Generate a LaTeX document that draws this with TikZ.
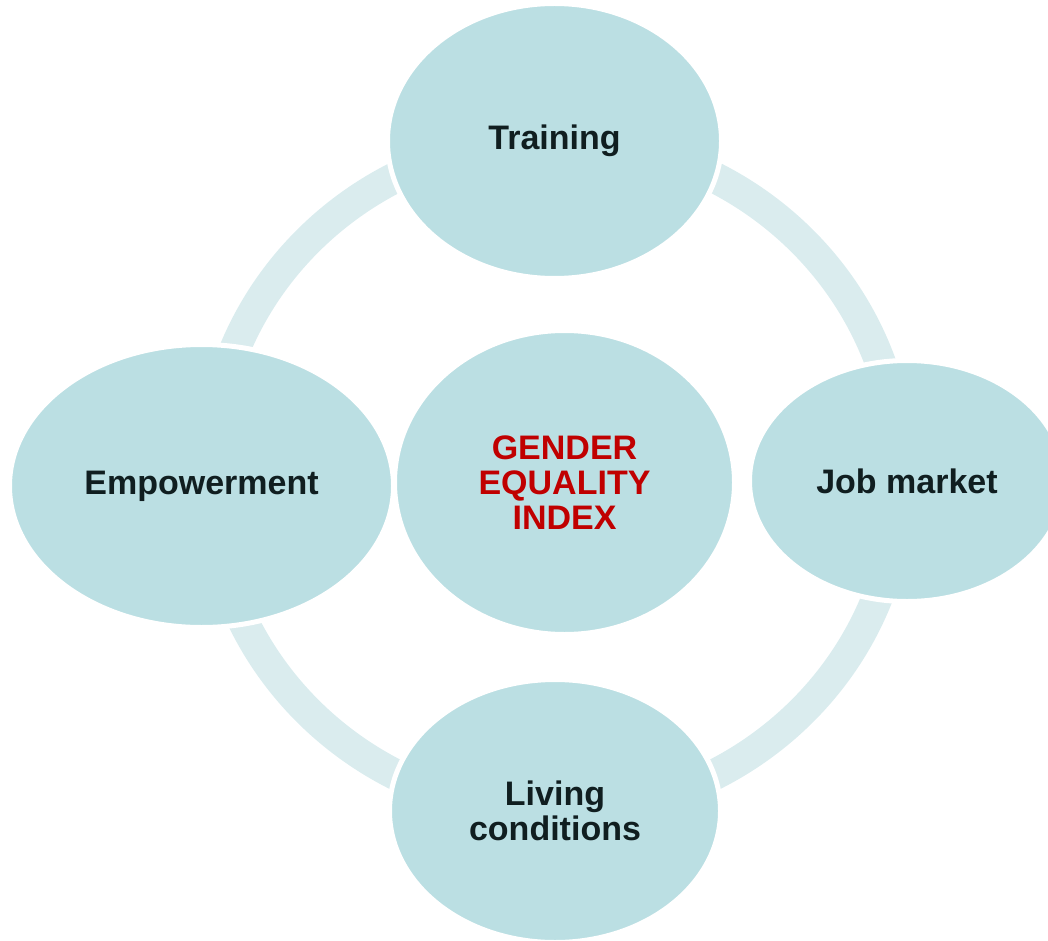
\documentclass[tikz,border=0pt]{standalone}
\usepackage{fontspec}
\setmainfont{Liberation Sans}
\usetikzlibrary{shapes.geometric}
\definecolor{bubblefill}{RGB}{187,223,227}
\definecolor{ringfill}{RGB}{218,236,238}
\definecolor{labeltext}{RGB}{16,30,32}
\definecolor{indexred}{RGB}{192,0,0}
\begin{document}
\begin{tikzpicture}[x=0.5pt, y=-0.5pt, line join=round,
  bubble/.style={ellipse, fill=bubblefill, draw=white, line width=2.5pt, inner sep=0pt,
    align=center, text=labeltext, font=\bfseries\fontsize{17}{17.5}\selectfont},
  ring/.style={draw=ringfill, line width=15.5pt}]
\useasboundingbox (0,0) rectangle (1048,941);
\clip (0,0) rectangle (1048,941);
% ring behind the bubbles
\draw[ring] (555,476) ellipse [x radius=345.5, y radius=336.5];
\node[bubble, minimum width=167pt, minimum height=137.5pt] (training) at (554.5,141) {Training};
\node[bubble, minimum width=157.5pt, minimum height=120.5pt] (jobmarket) at (907,481) {Job market};
\node[bubble, minimum width=165.5pt, minimum height=131.5pt] (living) at (555,811) {Living\\conditions};
\node[bubble, minimum width=192pt, minimum height=141.5pt] (empower) at (201.5,486) {Empowerment};
% centre
\node[bubble, text=indexred, minimum width=170pt, minimum height=152pt] (gei) at (564.5,482.5) {GENDER\\EQUALITY\\INDEX};
\end{tikzpicture}
\end{document}
